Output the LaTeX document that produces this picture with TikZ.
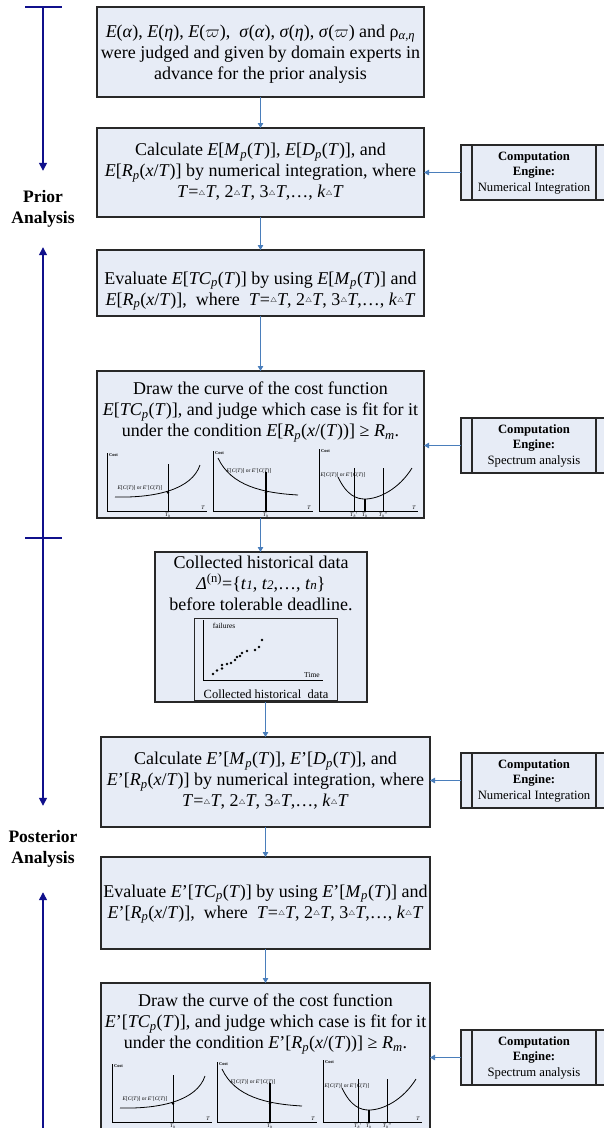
\documentclass[tikz,border=0pt]{standalone}
\usepackage{fontspec}
\setmainfont{Liberation Serif}
\usetikzlibrary{arrows.meta,calc}
\definecolor{boxfill}{RGB}{231,236,246}
\definecolor{boxline}{RGB}{40,40,40}
\definecolor{flowblue}{RGB}{74,126,187}
\definecolor{navyarrow}{RGB}{16,16,140}
\newcommand\smalltri{\raisebox{0.12em}{\fontsize{7}{7}\selectfont$\triangle$}}
\newcommand\Tseq{\textit{T}=\smalltri\textit{T}, 2\smalltri\textit{T}, 3\smalltri\textit{T},…, \textit{k}\smalltri\textit{T}}
\newcommand\subp{\textsubscript{\textit{p}}}
\tikzset{
  box/.style={draw=boxline, fill=boxfill, line width=1.1pt, inner sep=0pt, outer sep=0pt},
  txt/.style={align=center, font=\fontsize{18}{21}\selectfont, inner sep=0pt},
  engtxt/.style={align=center, font=\fontsize{12.7}{15.5}\selectfont, inner sep=0pt},
  phaselbl/.style={align=center, font=\bfseries\fontsize{17.5}{21}\selectfont, inner sep=0pt},
  flow/.style={draw=flowblue, line width=0.9pt, -{Triangle[width=5.5pt,length=5pt]}},
  phase/.style={draw=navyarrow, line width=1.4pt, -{Triangle[width=8pt,length=8pt]}},
  axisl/.style={draw=black, line width=0.7pt},
  curvel/.style={draw=black, line width=0.8pt},
  vl/.style={draw=black, line width=0.8pt},
  costl/.style={anchor=north west, font=\bfseries\fontsize{4.5}{5}\selectfont, inner sep=0pt},
  tinyl/.style={font=\fontsize{5.5}{6}\selectfont, inner sep=0pt},
  clbl/.style={font=\fontsize{5.5}{6}\selectfont, inner sep=0pt},
  costA/.pic={
    \draw[axisl] (0,-58) -- (0,0) -- (100,0);
    \node[costl] (-c) at (2,-58) {Cost};
    \node[tinyl, anchor=south] (-t) at (96,-1) {\textit{T}};
    \draw[curvel] (8,-14) .. controls (50,-13) and (85,-22) .. (93,-46);
    \draw[vl] (61,-47) -- (61,0);
    \fill (61,-18.5) circle (1.4);
    \node[clbl] (-l) at (33,-23) {\textit{E}[\textit{C}(\textit{T})] or \textit{E}'[\textit{C}(\textit{T})]};
    \node[tinyl, anchor=north] (-h) at (61,1.5) {\textit{T}\textsubscript{\textit{h}}};
  },
  costB/.pic={
    \draw[axisl] (0,-60) -- (0,0) -- (100,0);
    \node[costl] (-c) at (2,-60) {Cost};
    \node[tinyl, anchor=south] (-t) at (96,-1) {\textit{T}};
    \draw[curvel] (5,-53) .. controls (18,-25) and (50,-18) .. (85,-16);
    \draw[vl, line width=1.6pt] (53,-39) -- (53,0);
    \fill (53,-18.5) circle (1.4);
    \node[clbl] (-l) at (36,-40) {\textit{E}[\textit{C}(\textit{T})] or \textit{E}'[\textit{C}(\textit{T})]};
    \node[tinyl, anchor=north] (-h) at (53,1.5) {\textit{T}\textsubscript{\textit{h}}};
  },
  costC/.pic={
    \draw[axisl] (0,-62) -- (0,0) -- (99,0);
    \node[costl] (-c) at (2,-62) {Cost};
    \node[tinyl, anchor=south] (-t) at (95,-1) {\textit{T}};
    \draw[curvel] (19,-34) .. controls (28,-15) and (38,-12) .. (46,-12) .. controls (60,-12) and (80,-22) .. (93,-43);
    \draw[vl] (35,-43) -- (35,0);
    \draw[vl, line width=1.4pt] (46,-12) -- (46,0);
    \draw[vl] (64,-43) -- (64,0);
    \node[clbl] (-l) at (24,-36) {\textit{E}[\textit{C}(\textit{T})] or \textit{E}'[\textit{C}(\textit{T})]};
    \node[tinyl, anchor=north] (-h1) at (35,1.5) {\textit{T}\textsubscript{\textit{h}}'};
    \node[tinyl, anchor=north] (-h2) at (46,1.5) {\textit{T}\textsubscript{\textit{h}}};
    \node[tinyl, anchor=north] (-h3) at (64,1.5) {\textit{T}\textsubscript{\textit{h}}''};
  }
}
\begin{document}
\begin{tikzpicture}[x=1pt,y=-1pt]
\useasboundingbox (0,0) rectangle (604,1128);
\clip (0,0) rectangle (604,1128);

% ---------- main boxes ----------
\node[box, minimum width=327pt, minimum height=90pt] (b1) at (260.5,52) {};
\node[txt] (t1) at (260.5,54) {\textit{E}(\textit{α}), \textit{E}(\textit{η}), \textit{E}($\varpi$), \ \textit{σ}(\textit{α}), \textit{σ}(\textit{η}), \textit{σ}($\varpi$) and ρ\textsubscript{\textit{α},\textit{η}}\\were judged and given by domain experts in\\advance for the prior analysis};

\node[box, minimum width=327pt, minimum height=89pt] (b2) at (260.5,172.5) {};
\node[txt] (t2) at (260.5,172) {Calculate \textit{E}[\textit{M}\subp(\textit{T})], \textit{E}[\textit{D}\subp(\textit{T})], and\\\textit{E}[\textit{R}\subp(\textit{x}/\textit{T})] by numerical integration, where\\\Tseq};

\node[box, minimum width=327pt, minimum height=66pt] (b3) at (260.5,283) {};
\node[txt] (t3) at (260.5,291) {Evaluate \textit{E}[\textit{TC}\subp(\textit{T})] by using \textit{E}[\textit{M}\subp(\textit{T})] and\\\textit{E}[\textit{R}\subp(\textit{x}/\textit{T})], \ where \ \Tseq};

\node[box, minimum width=327pt, minimum height=147pt] (b4) at (260.5,444.5) {};
\node[txt] (t4) at (260.5,412) {Draw the curve of the cost function\\\textit{E}[\textit{TC}\subp(\textit{T})], and judge which case is fit for it\\under the condition \textit{E}[\textit{R}\subp(\textit{x}/(\textit{T}))] ≥ \textit{R}\textsubscript{\textit{m}}.};
\pic (pa) at (107,511) {costA};
\pic (pb) at (213,511) {costB};
\pic (pc) at (319,511) {costC};

\node[box, minimum width=212pt, minimum height=150pt] (b5) at (261,627) {};
\node[txt] (t5) at (261,583) {Collected historical data\\\textit{Δ}\textsuperscript{(n)}=\{\textit{t}{\fontsize{13}{13}\selectfont\textit{1}}, \textit{t}{\fontsize{13}{13}\selectfont\textit{2}},…, \textit{t}{\fontsize{13}{13}\selectfont\textit{n}}\}\\before tolerable deadline.};
\node[box, line width=0.9pt, minimum width=143pt, minimum height=82pt] (hb) at (265.5,659) {};
\draw[axisl] (203,620) -- (203,680) -- (323,680);
\node[font=\fontsize{7.5}{8}\selectfont, inner sep=0pt] (hf) at (224,626) {failures};
\node[font=\fontsize{7.5}{8}\selectfont, inner sep=0pt] (ht) at (312,675) {Time};
\foreach \px/\py in {213/674,217/670.5,222/668.5,222/665,227/664,231/663,235/660,237/657,240/656,242/653,247/651,255/650,259/647,262/640}
  \fill (\px,\py) circle (1.3);
\node[font=\fontsize{12.5}{14}\selectfont, inner sep=0pt] (hc) at (266,694) {Collected historical \ data};

\node[box, minimum width=329pt, minimum height=90pt] (b6) at (265.5,782) {};
\node[txt] (t6) at (265.5,781) {Calculate \textit{E}'[\textit{M}\subp(\textit{T})], \textit{E}'[\textit{D}\subp(\textit{T})], and\\\textit{E}'[\textit{R}\subp(\textit{x}/\textit{T})] by numerical integration, where\\\Tseq};

\node[box, minimum width=329pt, minimum height=92pt] (b7) at (265.5,903) {};
\node[txt] (t7) at (265.5,904) {Evaluate \textit{E}'[\textit{TC}\subp(\textit{T})] by using \textit{E}'[\textit{M}\subp(\textit{T})] and\\\textit{E}'[\textit{R}\subp(\textit{x}/\textit{T})], \ where \ \Tseq};

\node[box, minimum width=329pt, minimum height=160pt] (b8) at (265.5,1063) {};
\node[txt] (t8) at (265.5,1024) {Draw the curve of the cost function\\\textit{E}'[\textit{TC}\subp(\textit{T})], and judge which case is fit for it\\under the condition \textit{E}'[\textit{R}\subp(\textit{x}/(\textit{T}))] ≥ \textit{R}\textsubscript{\textit{m}}.};
\pic (pd) at (112,1122) {costA};
\pic (pe) at (217,1122) {costB};
\pic (pf) at (323,1122) {costC};

% ---------- flow arrows ----------
\draw[flow] (b1.south) -- (b2.north);
\draw[flow] (b2.south) -- (b3.north);
\draw[flow] (b3.south) -- (b4.north);
\draw[flow] (b4.south) -- (b4.south |- b5.north);
\draw[flow] (b5.south -| b6.north) -- (b6.north);
\draw[flow] (b6.south) -- (b7.north);
\draw[flow] (b7.south) -- (b8.north);

% ---------- computation engines ----------
\foreach \nm/\cy/\lab in {e1/172.5/Numerical Integration, e2/445.5/Spectrum analysis, e3/780.5/Numerical Integration, e4/1057.5/Spectrum analysis}{
  \node[box, minimum width=151pt, minimum height=55pt] (\nm) at (536.5,\cy) {};
  \draw[draw=boxline, line width=1.1pt] ([xshift=11pt]\nm.north west) -- ([xshift=11pt]\nm.south west);
  \draw[draw=boxline, line width=1.1pt] ([xshift=135pt]\nm.north west) -- ([xshift=135pt]\nm.south west);
  \node[engtxt] (\nm t) at (534,\cy) {\textbf{Computation}\\\textbf{Engine:}\\\lab};
}
\draw[flow] (e1.west) -- (e1.west -| b2.east);
\draw[flow] (e2.west) -- (e2.west -| b4.east);
\draw[flow] (e3.west) -- (e3.west -| b6.east);
\draw[flow] (e4.west) -- (e4.west -| b8.east);

% ---------- phase markers ----------
\coordinate (ptop) at (43,7);
\coordinate (pmid) at (43,538);
\coordinate (pbot) at (43,1140);
\draw[navyarrow, line width=1.4pt] ($(ptop)+(-18,0)$) -- ($(ptop)+(19,0)$);
\draw[navyarrow, line width=1.4pt] ($(pmid)+(-18,0)$) -- ($(pmid)+(19,0)$);
\node[phaselbl, minimum height=76pt] (prior) at (43,209) {Prior\\Analysis};
\node[phaselbl, minimum height=86pt] (post) at (43,849) {Posterior\\Analysis};
\draw[phase] (ptop) -- (prior.north);
\draw[phase] (pmid) -- (prior.south);
\draw[phase] (pmid) -- (post.north);
\draw[phase] (pbot) -- (post.south);
\end{tikzpicture}
\end{document}
